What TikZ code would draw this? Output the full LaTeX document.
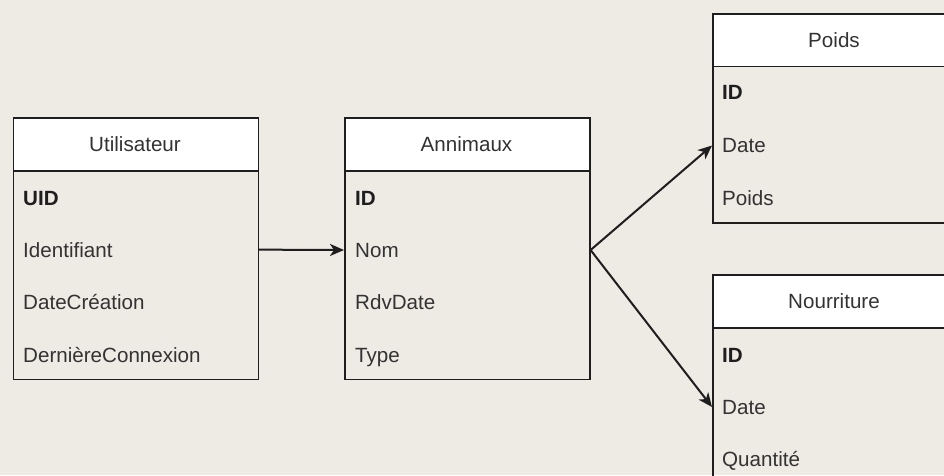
\documentclass[tikz,border=0pt]{standalone}
\usepackage{fontspec}
\setmainfont{Liberation Sans}
\usetikzlibrary{arrows.meta}
\definecolor{bg}{HTML}{EEEAE4}
\definecolor{ln}{HTML}{1E1E1E}
\definecolor{tx}{HTML}{333333}
\begin{document}
\begin{tikzpicture}[x=1pt,y=-1pt,
  hdr/.style={draw=ln, line width=1.6pt, fill=white, minimum width=245pt, minimum height=53pt, anchor=north west, inner sep=0pt},
  bdy/.style={draw=ln, line width=1.6pt, minimum width=245pt, anchor=north west, inner sep=0pt},
  ttl/.style={font=\fontsize{20.6}{24}\selectfont, text=tx, anchor=base, inner sep=0pt},
  fld/.style={font=\fontsize{20.6}{24}\selectfont, text=tx, anchor=base west, inner sep=0pt},
  key/.style={font=\fontsize{20.6}{24}\selectfont\bfseries, text=ln, anchor=base west, inner sep=0pt},
  rel/.style={draw=ln, line width=2pt, -{Stealth[length=14pt,width=12pt,inset=4pt]}}]
\useasboundingbox (0,0) rectangle (944,475);
\fill[bg] (0,0) rectangle (944,475);
\clip (0,0) rectangle (944,475);

% Utilisateur
\node[bdy, minimum height=208.5pt] (ut-b) at (12.5,170) {};
\node[hdr] (ut-h) at (12.5,117) {};
\node[ttl] (ut-t) at (135,151.5) {Utilisateur};
\node[key] (ut-r1) at (23,205) {UID};
\node[fld] (ut-r2) at (23,257) {Identifiant};
\node[fld] (ut-r3) at (23,309.5) {DateCréation};
\node[fld] (ut-r4) at (23,362) {DernièreConnexion};

% Annimaux
\node[bdy, minimum height=208.5pt] (an-b) at (344,170) {};
\node[hdr] (an-h) at (344,117) {};
\node[ttl] (an-t) at (466.5,151.5) {Annimaux};
\node[key] (an-r1) at (355,205) {ID};
\node[fld] (an-r2) at (355,257) {Nom};
\node[fld] (an-r3) at (355,309.5) {RdvDate};
\node[fld] (an-r4) at (355,362) {Type};

% Poids
\node[bdy, minimum height=156.5pt] (po-b) at (712,65.5) {};
\node[hdr, minimum height=52.5pt] (po-h) at (712,13) {};
\node[ttl] (po-t) at (834,47) {Poids};
\node[key] (po-r1) at (722,99.5) {ID};
\node[fld] (po-r2) at (722,152.5) {Date};
\node[fld] (po-r3) at (722,205) {Poids};

% Nourriture
\node[bdy, minimum height=156.5pt] (no-b) at (712,327) {};
\node[hdr, minimum height=53pt] (no-h) at (712,274) {};
\node[ttl] (no-t) at (834,308.5) {Nourriture};
\node[key] (no-r1) at (722,362) {ID};
\node[fld] (no-r2) at (722,414) {Date};
\node[fld] (no-r3) at (722,466.5) {Quantité};

% connectors
\draw[rel] (ut-b.east |- ut-r2.west) -- (an-b.west |- an-r2.west);
\draw[rel] (an-b.east |- an-r2.west) -- (po-b.west |- po-r2.west);
\draw[rel] (an-b.east |- an-r2.west) -- (no-b.west |- no-r2.west);
\end{tikzpicture}
\end{document}
